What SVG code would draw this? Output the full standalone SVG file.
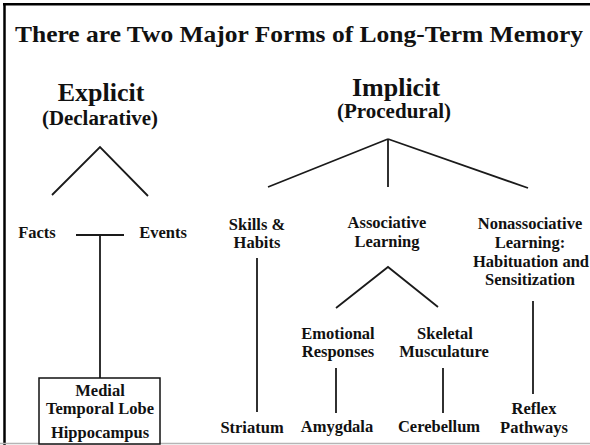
<svg xmlns="http://www.w3.org/2000/svg" width="590" height="445" viewBox="0 0 590 445">
<style>
text{font-family:"Liberation Serif","Times New Roman",serif;font-weight:bold;fill:#111;}
.l{font-size:16.5px;text-anchor:middle;}
.h{font-size:26px;text-anchor:middle;}
.s{font-size:20px;text-anchor:middle;}
.c line,.c polyline{stroke:#1a1a1a;stroke-width:1.8;fill:none;}
</style>
<rect width="590" height="445" fill="#fff"/>
<g id="frame">
<line x1="3" y1="4.2" x2="590" y2="4.2" stroke="#000" stroke-width="2.5"/>
<line x1="4.5" y1="3" x2="4.5" y2="445" stroke="#000" stroke-width="2.5"/>
<line x1="0" y1="443.5" x2="590" y2="443.5" stroke="#b5b5b5" stroke-width="1.5"/>
</g>
<g id="title"><text x="15" y="42" font-size="24" textLength="568" lengthAdjust="spacingAndGlyphs">There are Two Major Forms of Long-Term Memory</text></g>
<g class="c" id="connectors">
<polyline points="52,195 100,147 148,196"/>
<line x1="76" y1="235" x2="124" y2="235"/>
<line x1="100" y1="235" x2="100" y2="378"/>
<line x1="388" y1="139" x2="268" y2="187"/>
<line x1="388" y1="139" x2="388" y2="187"/>
<line x1="388" y1="139" x2="528" y2="188"/>
<line x1="257" y1="258" x2="257" y2="412"/>
<polyline points="336,308 388,267 438,307"/>
<line x1="336" y1="368" x2="336" y2="413"/>
<line x1="443" y1="368" x2="443" y2="413"/>
<line x1="533" y1="301" x2="533" y2="394"/>
</g>
<g id="explicit"><text class="h" x="101" y="101">Explicit</text><text class="s" x="100" y="125" textLength="116" lengthAdjust="spacingAndGlyphs">(Declarative)</text></g>
<g id="implicit"><text class="h" x="396" y="96">Implicit</text><text class="s" x="394" y="118" textLength="114" lengthAdjust="spacingAndGlyphs">(Procedural)</text></g>
<g id="facts"><text class="l" x="37" y="238">Facts</text></g>
<g id="events"><text class="l" x="163" y="238">Events</text></g>
<g id="mtl">
<rect x="39" y="378" width="121" height="66" fill="#fff" stroke="#111" stroke-width="1.5"/>
<text class="l" x="100" y="396">Medial</text>
<text class="l" x="100" y="414">Temporal Lobe</text>
<text class="l" x="100" y="438">Hippocampus</text>
</g>
<g id="skills"><text class="l" x="257" y="230">Skills &amp;</text><text class="l" x="257" y="248">Habits</text></g>
<g id="striatum"><text class="l" x="252" y="433">Striatum</text></g>
<g id="associative"><text class="l" x="387" y="228">Associative</text><text class="l" x="387" y="247">Learning</text></g>
<g id="emotional"><text class="l" x="338" y="339">Emotional</text><text class="l" x="338" y="357">Responses</text></g>
<g id="skeletal"><text class="l" x="445" y="339">Skeletal</text><text class="l" x="444" y="357">Musculature</text></g>
<g id="amygdala"><text class="l" x="337" y="432">Amygdala</text></g>
<g id="cerebellum"><text class="l" x="439" y="432">Cerebellum</text></g>
<g id="nonassociative">
<text class="l" x="530" y="229">Nonassociative</text>
<text class="l" x="530" y="248">Learning:</text>
<text class="l" x="531" y="267">Habituation and</text>
<text class="l" x="530" y="285">Sensitization</text>
</g>
<g id="reflex"><text class="l" x="534" y="414">Reflex</text><text class="l" x="534" y="433">Pathways</text></g>
</svg>
